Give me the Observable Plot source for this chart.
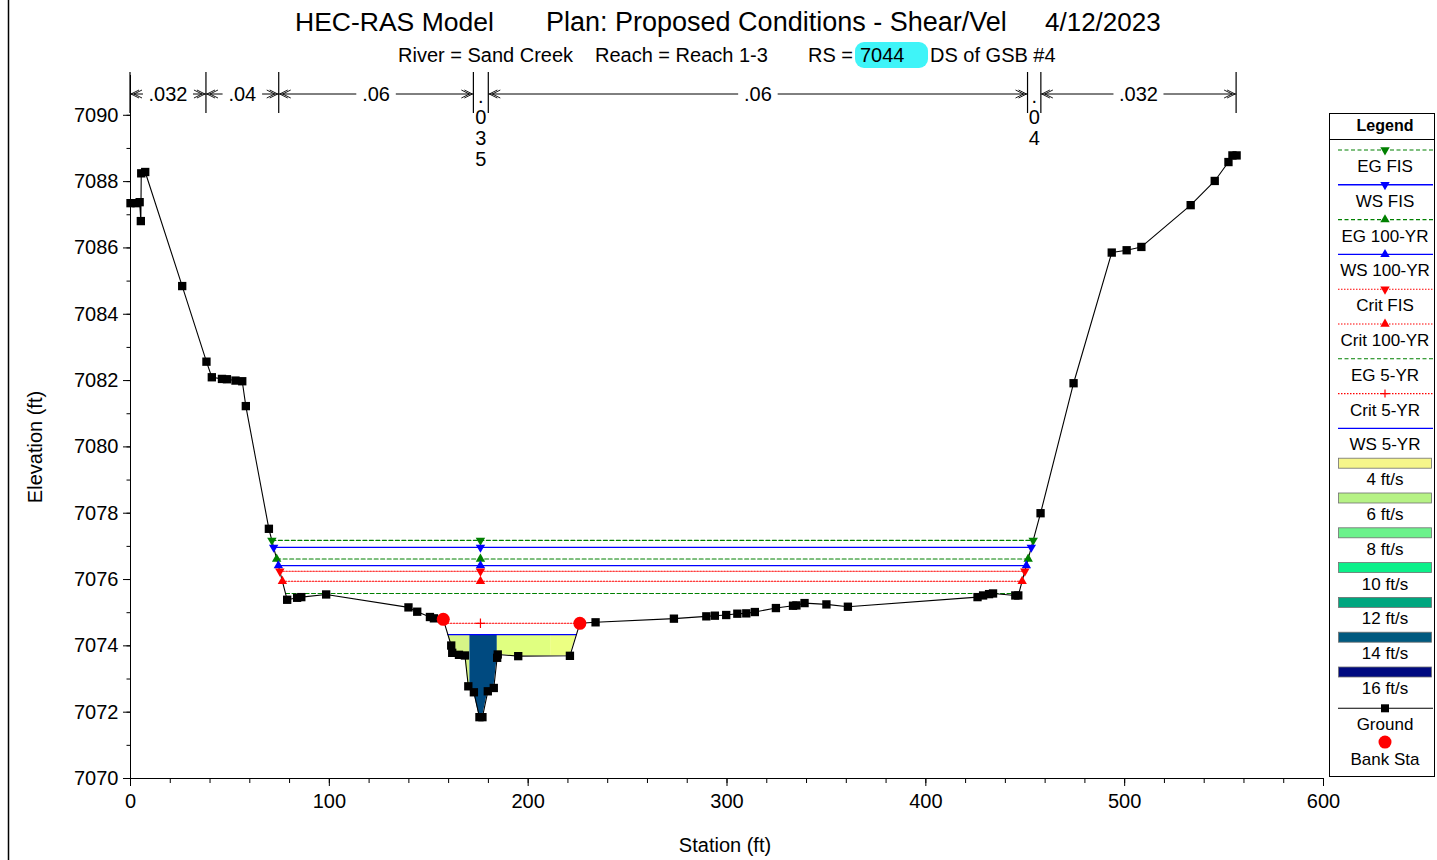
<!DOCTYPE html>
<html><head><meta charset="utf-8">
<script src="https://cdn.jsdelivr.net/npm/d3@7"></script>
<script src="https://cdn.jsdelivr.net/npm/@observablehq/plot@0.6"></script>
<style>html,body{margin:0;padding:0;background:#fff;overflow:hidden;}</style>
</head><body><div id="chart"></div>
<script>
// ---------- data ----------
const groundStation = [0,3,4.6,5.2,5.4,7.4,26,38.2,40.9,46,48.5,52.8,56.2,58,69.6,78.8,83.8,85.9,98.4,139.8,144.2,150.6,152.6,157.3,161.3,161.8,165.2,168.2,169.9,172.7,175.5,177,179.7,182.7,184.4,184.7,195,221,226,233.9,273.3,289.6,293.9,299.6,305.2,309.7,314,324.6,333.2,334.9,339,350,360.8,426,428.8,431.8,433.8,445,446.5,457.7,474.3,493.5,501,508.4,533.2,545.3,552.2,554.2,556.3];
const groundElev = [7087.35,7087.35,7087.38,7086.81,7088.25,7088.29,7084.85,7082.57,7082.1,7082.05,7082.04,7082.0,7081.98,7081.23,7077.53,7075.39,7075.45,7075.47,7075.55,7075.16,7075.03,7074.87,7074.83,7074.8,7074.01,7073.79,7073.73,7073.71,7072.78,7072.6,7071.85,7071.85,7072.63,7072.73,7073.64,7073.74,7073.69,7073.7,7074.68,7074.71,7074.82,7074.89,7074.91,7074.93,7074.97,7074.98,7075.02,7075.14,7075.21,7075.22,7075.29,7075.25,7075.18,7075.47,7075.52,7075.56,7075.58,7075.52,7075.52,7078.0,7081.92,7085.86,7085.93,7086.03,7087.29,7088.02,7088.59,7088.79,7088.79];
const bankStation = [157.3, 226];
const bankElev = [7074.8, 7074.68];
const profileNames = ["EG FIS","WS FIS","EG 100-YR","WS 100-YR","Crit FIS","Crit 100-YR","EG 5-YR","Crit 5-YR","WS 5-YR"];
const profileElev = [7077.18,7076.97,7076.62,7076.42,7076.25,7075.95,7075.58,7074.68,7074.34];
const markerStation = 176;
const nBreaks = [0,38.2,74.8,172.7,180.2,451.4,458.1,556.3];
const nValues = [".032",".04",".06",".035",".06",".04",".032"];
const velBreaks = [170.7,184.5,211.3];   // interior slice boundaries of the WS 5-YR flow area
const velLegend = ["4 ft/s","6 ft/s","8 ft/s","10 ft/s","12 ft/s","14 ft/s","16 ft/s"];
const xTicks = [0,100,200,300,400,500,600];
const xMinor = d3.range(0,601,20);
const yTicks = d3.range(7070,7091,2);
const yMinor = d3.range(7070,7091,1);

// ---------- styles ----------
const GREEN="#008000", BLUE="#0000ff", RED="#ff0000";
const profileStyle = {
  "EG FIS":{stroke:GREEN,dash:"4,2.5",sym:"down"},
  "WS FIS":{stroke:BLUE,dash:null,sym:"down"},
  "EG 100-YR":{stroke:GREEN,dash:"4,2.5",sym:"up"},
  "WS 100-YR":{stroke:BLUE,dash:null,sym:"up"},
  "Crit FIS":{stroke:RED,dash:"1.5,1.5",sym:"down"},
  "Crit 100-YR":{stroke:RED,dash:"1.5,1.5",sym:"up"},
  "EG 5-YR":{stroke:GREEN,dash:"4,2.5",sym:null},
  "Crit 5-YR":{stroke:RED,dash:"1.5,1.5",sym:"plus"},
  "WS 5-YR":{stroke:BLUE,dash:null,sym:null}
};
const velLegendColors = ["#f6f68a","#b6f285","#6cf28c","#0cf08a","#00a67f","#005a80","#000a80"];
const sliceColors = ["#d6f487","#004a80","#e0ff80","#ecff82"];
const FONT = "'Liberation Sans', Arial, Helvetica, sans-serif";

// ---------- derived geometry ----------
const ground = groundStation.map((s,i)=>({s, e:groundElev[i]}));
function gAt(s){
  for(let i=0;i<ground.length-1;i++){
    const a=ground[i], b=ground[i+1];
    if(s>=a.s && s<=b.s){ if(b.s===a.s) return a.e; return a.e+(b.e-a.e)*(s-a.s)/(b.s-a.s); }
  }
  return ground[ground.length-1].e;
}
function extentAt(level){
  let L,R; const n=ground.length;
  for(let i=0;i<n-1;i++){ const a=ground[i], b=ground[i+1];
    if(a.e>=level && b.e<level){ L=a.s+(a.e-level)/(a.e-b.e)*(b.s-a.s); break; } }
  for(let i=n-1;i>0;i--){ const b=ground[i], a=ground[i-1];
    if(b.e>=level && a.e<level){ R=a.s+(level-a.e)/(b.e-a.e)*(b.s-a.s); break; } }
  return [L,R];
}
const profiles = profileNames.map((name,i)=>{
  const [L,R]=extentAt(profileElev[i]);
  return {name, elev:profileElev[i], L, R, ...profileStyle[name]};
});
const lineData = profiles.flatMap(p=>[{name:p.name,s:p.L,e:p.elev},{name:p.name,s:p.R,e:p.elev}]);
const markerData = profiles.filter(p=>p.sym).flatMap(p=>{
  const pts = p.sym==="plus" ? [markerStation] : [p.L, markerStation, p.R];
  return pts.map(s=>({name:p.name, s, e:p.elev, sym:p.sym, stroke:p.stroke}));
});
const ws5 = profiles.find(p=>p.name==="WS 5-YR");
const edges = [ws5.L, ...velBreaks, ws5.R];
const areaData = [];
for(let k=0;k<edges.length-1;k++){
  const a=edges[k], b=edges[k+1];
  const xs=[a, ...groundStation.filter(s=>s>a&&s<b), b];
  xs.forEach(s=>areaData.push({slice:k, s, y1:Math.min(gAt(s),ws5.elev), y2:ws5.elev, fill:sliceColors[k]}));
}
const bankData = bankStation.map((s,i)=>({s,e:bankElev[i]}));

// ---------- plot ----------
const W=1437, H=860;
const lineMarks = profiles.map(p=>Plot.line(lineData.filter(d=>d.name===p.name),{x:"s",y:"e",stroke:p.stroke,strokeWidth:p.dash?1.1:1.4,strokeDasharray:p.dash||undefined}));
const svg = Plot.plot({
  width:W, height:H,
  marginLeft:130, marginRight:114, marginTop:75, marginBottom:82,
  style:{fontFamily:FONT, fontSize:"20px", color:"black", background:"white"},
  x:{domain:[0,600]},
  y:{domain:[7070,7091.2]},
  marks:[
    Plot.areaY(areaData,{x:"s",y1:"y1",y2:"y2",z:"slice",fill:"fill",curve:"linear"}),
    ...lineMarks,
    Plot.line(ground,{x:"s",y:"e",stroke:"black",strokeWidth:1.1}),
    Plot.dot(ground,{x:"s",y:"e",symbol:"square",r:4.7,fill:"black"}),
    Plot.dot(bankData,{x:"s",y:"e",r:6.5,fill:RED}),
    Plot.dot(markerData.filter(d=>d.sym==="up"),{x:"s",y:"e",symbol:"triangle",r:3.5,fill:d=>d.stroke}),
    Plot.dot(markerData.filter(d=>d.sym==="down"),{x:"s",y:"e",symbol:"triangle",r:3.5,rotate:180,fill:d=>d.stroke}),
    Plot.dot(markerData.filter(d=>d.sym==="plus"),{x:"s",y:"e",symbol:"plus",r:3.2,stroke:RED,fill:"none",strokeWidth:1.2}),
    Plot.ruleY([7070],{x1:0,x2:600,stroke:"black"}),
    Plot.ruleX([0],{y1:7070,y2:7091.2,stroke:"black"}),
    Plot.axisX({ticks:xMinor,tickSize:5,text:null,label:null}),
    Plot.axisX({ticks:xTicks,tickSize:8,tickPadding:7,fontSize:20,label:null,tickFormat:d=>String(d)}),
    Plot.axisY({ticks:yMinor,tickSize:3.5,text:null,label:null}),
    Plot.axisY({ticks:yTicks,tickSize:7,tickPadding:5,fontSize:20,label:null,tickFormat:d=>String(d)})
  ]
});
document.getElementById("chart").appendChild(svg);

const X = v=>svg.scale("x").apply(v);
const S = d3.select(svg);

S.append("line").attr("x1",8.5).attr("x2",8.5).attr("y1",0).attr("y2",H).attr("stroke","black").attr("stroke-width",1.5);

// titles
const T = S.append("g").attr("font-family",FONT).attr("fill","black").attr("text-anchor","start");
[["HEC-RAS Model",295,26.5],["Plan: Proposed Conditions - Shear/Vel",546,27],["4/12/2023",1045,26]].forEach(([t,x,fs])=>
  T.append("text").attr("x",x).attr("y",31).attr("font-size",fs).attr("text-anchor","start").text(t));
T.append("rect").attr("x",855).attr("y",42).attr("width",73).attr("height",26).attr("rx",9).attr("fill","#3ff4f8");
[["River = Sand Creek",398],["Reach = Reach 1-3",595],["RS =",808],["7044",860],["DS of GSB #4",930]].forEach(([t,x])=>
  T.append("text").attr("x",x).attr("y",62).attr("font-size",20).attr("text-anchor","start").text(t));
T.append("text").attr("x",725).attr("y",852).attr("text-anchor","middle").attr("font-size",20).text("Station (ft)");
T.append("text").attr("transform","translate(42,447) rotate(-90)").attr("text-anchor","middle").attr("font-size",20).text("Elevation (ft)");

// Manning's n bar
const N = S.append("g").attr("font-family",FONT).attr("font-size",20).attr("fill","black");
const yBar = 94;
nBreaks.forEach(b=>N.append("line").attr("x1",X(b)).attr("x2",X(b)).attr("y1",72).attr("y2",113).attr("stroke","black").attr("stroke-width",1.2));
function arrow(tip, dir){
  const p = d3.path();
  [0,3].forEach(o=>{
    const t = tip - dir*(1+o);
    p.moveTo(t - dir*8, yBar-4); p.lineTo(t, yBar); p.lineTo(t - dir*8, yBar+4);
  });
  N.append("path").attr("d",p.toString()).attr("fill","none").attr("stroke","black").attr("stroke-width",0.9);
}
nValues.forEach((v,i)=>{
  const a=X(nBreaks[i]), b=X(nBreaks[i+1]), c=(a+b)/2;
  const tw = v.length*10.5;
  if(b-a > tw+30){
    N.append("text").attr("x",c).attr("y",yBar+7).attr("text-anchor","middle").text(v);
    N.append("line").attr("x1",a).attr("x2",c-tw/2-4).attr("y1",yBar).attr("y2",yBar).attr("stroke","black");
    N.append("line").attr("x1",c+tw/2+4).attr("x2",b).attr("y1",yBar).attr("y2",yBar).attr("stroke","black");
    arrow(a,-1); arrow(b,1);
  } else {
    v.split("").forEach((ch,j)=>N.append("text").attr("x",c).attr("y",103+j*21).attr("text-anchor","middle").text(ch));
  }
});

// Legend
const G = S.append("g").attr("font-family",FONT).attr("fill","black");
G.append("rect").attr("x",1329.5).attr("y",113.5).attr("width",105).attr("height",663).attr("fill","white").attr("stroke","black");
G.append("text").attr("x",1385).attr("y",131).attr("text-anchor","middle").attr("font-weight","bold").attr("font-size",16).text("Legend");
G.append("line").attr("x1",1330).attr("x2",1434).attr("y1",139.5).attr("y2",139.5).attr("stroke","black");
const yc = i=>150+i*34.8;
const lx1=1338, lx2=1433, cx=1385;
const tri = d3.symbol().type(d3.symbolTriangle).size(3.5*3.5*Math.PI);
profiles.forEach((p,i)=>{
  const y=yc(i);
  G.append("line").attr("x1",lx1).attr("x2",lx2).attr("y1",y).attr("y2",y).attr("stroke",p.stroke).attr("stroke-width",p.dash?1.1:1.4).attr("stroke-dasharray",p.dash);
  if(p.sym==="up"||p.sym==="down") G.append("path").attr("d",tri()).attr("fill",p.stroke).attr("transform",`translate(${cx},${y}) rotate(${p.sym==="down"?180:0})`);
  if(p.sym==="plus") G.append("path").attr("d","M-4,0H4M0,-4V4").attr("stroke",RED).attr("stroke-width",1.2).attr("transform",`translate(${cx},${y})`);
  G.append("text").attr("x",cx).attr("y",y+22).attr("text-anchor","middle").attr("font-size",17).text(p.name);
});
velLegend.forEach((t,k)=>{
  const i=9+k, y=yc(i);
  G.append("rect").attr("x",1338.5).attr("y",y-5).attr("width",93).attr("height",10).attr("fill",velLegendColors[k]).attr("stroke","#707070").attr("stroke-width",0.8);
  G.append("text").attr("x",cx).attr("y",y+22).attr("text-anchor","middle").attr("font-size",17).text(t);
});
{
  const y=yc(16)+1.5;
  G.append("line").attr("x1",lx1).attr("x2",lx2).attr("y1",y).attr("y2",y).attr("stroke","black").attr("stroke-width",1.1);
  G.append("rect").attr("x",cx-4).attr("y",y-4).attr("width",8).attr("height",8).attr("fill","black");
  G.append("text").attr("x",cx).attr("y",y+22).attr("text-anchor","middle").attr("font-size",17).text("Ground");
  const y2=yc(17)+0.5;
  G.append("circle").attr("cx",cx).attr("cy",y2).attr("r",6.5).attr("fill",RED);
  G.append("text").attr("x",cx).attr("y",y2+23).attr("text-anchor","middle").attr("font-size",17).text("Bank Sta");
}
</script></body></html>
